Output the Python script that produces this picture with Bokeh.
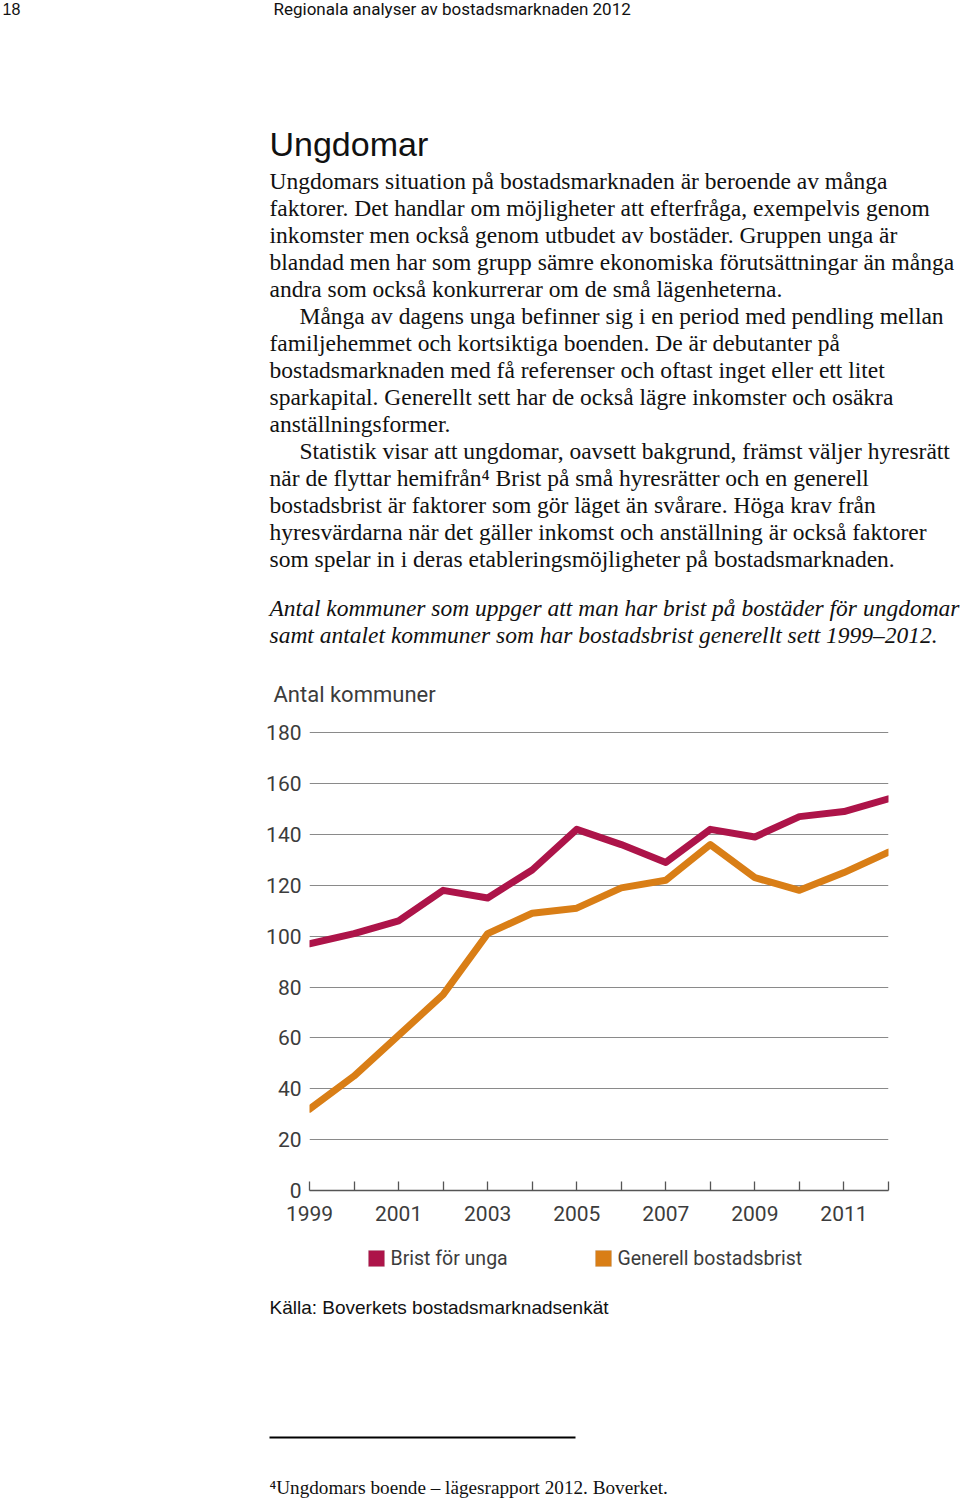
from bokeh.plotting import figure
from bokeh.models import Range1d, FixedTicker, Label, BoxAnnotation
from bokeh.layouts import column
from bokeh.embed import file_html
from bokeh.resources import INLINE

# ---- data ----
years = [1999, 2000, 2001, 2002, 2003, 2004, 2005, 2006, 2007, 2008, 2009, 2010, 2011, 2012]
brist_unga = [97, 101, 106, 118, 115, 126, 142, 136, 129, 142, 139, 147, 149, 154]
generell = [32, 45, 61, 77, 101, 109, 111, 119, 122, 136, 123, 118, 125, 133]
y_ticks = [0, 20, 40, 60, 80, 100, 120, 140, 160, 180]
x_label_ticks = [1999, 2001, 2003, 2005, 2007, 2009, 2011]
x_minor_ticks = [2000, 2002, 2004, 2006, 2008, 2010, 2012]
series_names = ["Brist för unga", "Generell bostadsbrist"]
series_colors = ["#ad1449", "#d97e16"]

body_lines = [
    (269, "Ungdomars situation på bostadsmarknaden är beroende av många"),
    (269, "faktorer. Det handlar om möjligheter att efterfråga, exempelvis genom"),
    (269, "inkomster men också genom utbudet av bostäder. Gruppen unga är"),
    (269, "blandad men har som grupp sämre ekonomiska förutsättningar än många"),
    (269, "andra som också konkurrerar om de små lägenheterna."),
    (299, "Många av dagens unga befinner sig i en period med pendling mellan"),
    (269, "familjehemmet och kortsiktiga boenden. De är debutanter på"),
    (269, "bostadsmarknaden med få referenser och oftast inget eller ett litet"),
    (269, "sparkapital. Generellt sett har de också lägre inkomster och osäkra"),
    (269, "anställningsformer."),
    (299, "Statistik visar att ungdomar, oavsett bakgrund, främst väljer hyresrätt"),
    (269, "när de flyttar hemifrån⁴ Brist på små hyresrätter och en generell"),
    (269, "bostadsbrist är faktorer som gör läget än svårare. Höga krav från"),
    (269, "hyresvärdarna när det gäller inkomst och anställning är också faktorer"),
    (269, "som spelar in i deras etableringsmöjligheter på bostadsmarknaden."),
]
caption_lines = [
    "Antal kommuner som uppger att man har brist på bostäder för ungdomar",
    "samt antalet kommuner som har bostadsbrist generellt sett 1999–2012.",
]

W = 960
TOP_H = 715          # page 0..715
CHART_H = 521        # page 715..1236
BOT_H = 1502 - TOP_H - CHART_H

SANS_C = "Roboto"
GREY_TXT = "#3c3c3c"


def text_fig(h):
    f = figure(width=W, height=h, output_backend="svg", toolbar_location=None,
               x_range=Range1d(0, W), y_range=Range1d(h, 0),
               x_axis_location=None, y_axis_location=None,
               min_border=0, min_border_left=0, min_border_right=0,
               min_border_top=0, min_border_bottom=0, frame_align=False)
    f.grid.visible = False
    f.outline_line_color = None
    f.background_fill_color = "white"
    f.border_fill_color = "white"
    return f


def lab(f, off, text, px, py, size, font="Liberation Serif", style="normal",
        color="#111111", baseline="middle"):
    f.add_layout(Label(x=px, y=py - off, text=text, text_font=font,
                       text_font_size=f"{size}px", text_font_style=style,
                       text_color=color, text_baseline=baseline, text_align="left"))


# ---------- top text ----------
top = text_fig(TOP_H)
lab(top, 0, "18", 2, 8, 16, font="Liberation Sans")
lab(top, 0, "Regionala analyser av bostadsmarknaden 2012", 273, 8, 17, font=SANS_C)
lab(top, 0, "Ungdomar", 269, 143, 34, font="Liberation Sans")
for i, (x0, t) in enumerate(body_lines):
    lab(top, 0, t, x0, 180 + 27 * i, 23.5)
for i, t in enumerate(caption_lines):
    lab(top, 0, t, 269, 607 + 27 * i, 23.5, style="italic")
lab(top, 0, "Antal kommuner", 273, 694, 22, font=SANS_C, color=GREY_TXT)

# ---------- chart ----------
FL, FR = 309, 888
FT_PAGE, FB_PAGE = 722, 1190
p = figure(width=W, height=CHART_H, output_backend="svg", toolbar_location=None,
           x_range=Range1d(1999, 2012), y_range=Range1d(0, 184),
           min_border_left=FL, min_border_right=W - FR,
           min_border_top=FT_PAGE - TOP_H, min_border_bottom=TOP_H + CHART_H - FB_PAGE,
           frame_align=False)
p.outline_line_color = None
p.background_fill_color = "white"
p.border_fill_color = "white"

p.xaxis.ticker = FixedTicker(ticks=x_label_ticks, minor_ticks=x_minor_ticks)
p.xaxis.axis_line_color = "#555555"
p.xaxis.axis_line_width = 1.5
p.xaxis.major_tick_in = 9
p.xaxis.major_tick_out = 0
p.xaxis.minor_tick_in = 9
p.xaxis.minor_tick_out = 0
p.xaxis.major_tick_line_color = "#555555"
p.xaxis.minor_tick_line_color = "#555555"
p.xaxis.major_tick_line_width = 1.3
p.xaxis.minor_tick_line_width = 1.3
p.xaxis.major_label_text_font = SANS_C
p.xaxis.major_label_text_font_size = "21px"
p.xaxis.major_label_text_color = GREY_TXT
p.xaxis.major_label_standoff = 15

p.yaxis.ticker = FixedTicker(ticks=y_ticks)
p.yaxis.axis_line_color = None
p.yaxis.major_tick_line_color = None
p.yaxis.minor_tick_line_color = None
p.yaxis.major_label_text_font = SANS_C
p.yaxis.major_label_text_font_size = "21px"
p.yaxis.major_label_text_color = GREY_TXT
p.yaxis.major_label_standoff = 2

p.xgrid.grid_line_color = None
p.ygrid.grid_line_color = "#8a8a8a"
p.ygrid.grid_line_width = 1.2

p.line(years, generell, line_color=series_colors[1], line_width=7,
       line_join="round", line_cap="round")
p.line(years, brist_unga, line_color=series_colors[0], line_width=7,
       line_join="round", line_cap="round")

# ---------- bottom text ----------
OFF = TOP_H + CHART_H
bot = text_fig(BOT_H)
leg_x = [368, 595]
for i, name in enumerate(series_names):
    x0 = leg_x[i]
    bot.add_layout(BoxAnnotation(left=x0, right=x0 + 16, top=1250 - OFF, bottom=1266 - OFF,
                                 fill_color=series_colors[i], fill_alpha=1,
                                 line_color="#777777", line_width=0.5))
    lab(bot, OFF, name, x0 + 22, 1258, 19.5, font=SANS_C, color=GREY_TXT)

lab(bot, OFF, "Källa: Boverkets bostadsmarknadsenkät", 269, 1307, 19, font="Liberation Sans")
bot.add_layout(BoxAnnotation(left=269, right=575, top=1436 - OFF, bottom=1438 - OFF,
                             fill_color="black", fill_alpha=1, line_color=None))
lab(bot, OFF, "⁴Ungdomars boende – lägesrapport 2012. Boverket.", 269, 1487, 19.2)

layout = column(top, p, bot, spacing=0)
open("out.html", "w").write(file_html(layout, INLINE))
